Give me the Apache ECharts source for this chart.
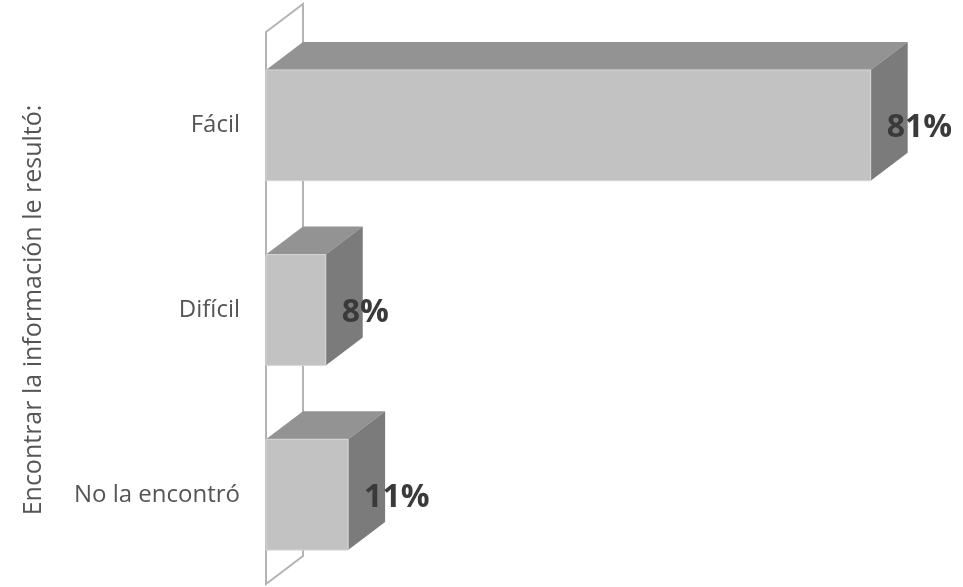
<!DOCTYPE html>
<html>
<head>
<meta charset="utf-8">
<script src="https://cdn.jsdelivr.net/npm/echarts@6/dist/echarts.min.js"></script>
<style>
  html, body { margin: 0; padding: 0; background: #fff; }
  #chart { width: 963px; height: 587px; }
</style>
</head>
<body>
<div id="chart"></div>
<script>
// Survey answers and their shares (%)
const categories = ['Fácil', 'Difícil', 'No la encontró'];
const values = [81, 8, 11];
const valueLabels = ['81%', '8%', '11%'];
const axisTitle = 'Encontrar la información le resultó:';

// Oblique depth of the 3D boxes
const DEPTH_X = 37;
const DEPTH_Y = -28;

const chart = echarts.init(document.getElementById('chart'));

function renderWall(params, api) {
  const cs = params.coordSys;
  const x = cs.x;
  const top = cs.y - 1;
  const bottom = cs.y + cs.height - 3;
  return {
    type: 'polygon',
    shape: {
      points: [
        [x, top], [x + DEPTH_X, top + DEPTH_Y],
        [x + DEPTH_X, bottom + DEPTH_Y], [x, bottom]
      ]
    },
    style: { fill: '#ffffff', stroke: '#b4b4b4', lineWidth: 2 }
  };
}

function renderBar(params, api) {
  const cat = api.value(0);
  const val = api.value(1);
  const start = api.coord([0, cat]);
  const end = api.coord([val, cat]);
  const band = api.size([0, 1])[1];
  const h = band * 0.6;
  const x0 = start[0], x1 = end[0];
  const y0 = end[1] - h / 2, y1 = end[1] + h / 2;
  return {
    type: 'group',
    children: [
      {
        type: 'polygon',
        shape: { points: [[x0, y0], [x0 + DEPTH_X, y0 + DEPTH_Y], [x1 + DEPTH_X, y0 + DEPTH_Y], [x1, y0]] },
        style: { fill: '#939393' }
      },
      {
        type: 'polygon',
        shape: { points: [[x1, y0], [x1 + DEPTH_X, y0 + DEPTH_Y], [x1 + DEPTH_X, y1 + DEPTH_Y], [x1, y1]] },
        style: { fill: '#7b7b7b' }
      },
      {
        type: 'rect',
        shape: { x: x0, y: y0, width: x1 - x0, height: h },
        style: { fill: '#c2c2c2', stroke: '#d6d6d6', lineWidth: 1 }
      },
      {
        type: 'text',
        x: x1 + 16,
        y: end[1] + 3,
        style: {
          text: valueLabels[params.dataIndex],
          fill: '#3a3a3a',
          font: 'bold 32px "Open Sans"',
          verticalAlign: 'middle',
          align: 'left'
        }
      }
    ]
  };
}

chart.setOption({
  animation: false,
  grid: { left: 266, top: 33, width: 642, height: 555 },
  xAxis: {
    type: 'value', min: 0, max: 86, show: false
  },
  yAxis: {
    type: 'category',
    data: categories,
    inverse: true,
    axisLine: { show: false },
    axisTick: { show: false },
    axisLabel: {
      margin: 26,
      color: '#555555',
      fontFamily: 'Open Sans',
      fontSize: 24
    },
    name: axisTitle,
    nameLocation: 'middle',
    nameRotate: 90,
    nameGap: 220,
    nameTextStyle: { color: '#555555', fontFamily: 'Open Sans', fontSize: 25 }
  },
  series: [
    {
      type: 'custom',
      renderItem: renderWall,
      data: [[0, 0]],
      z: 1,
      silent: true
    },
    {
      type: 'custom',
      renderItem: renderBar,
      encode: { x: 1, y: 0 },
      data: categories.map((c, i) => [i, values[i]]),
      z: 2
    }
  ]
});
</script>
</body>
</html>
